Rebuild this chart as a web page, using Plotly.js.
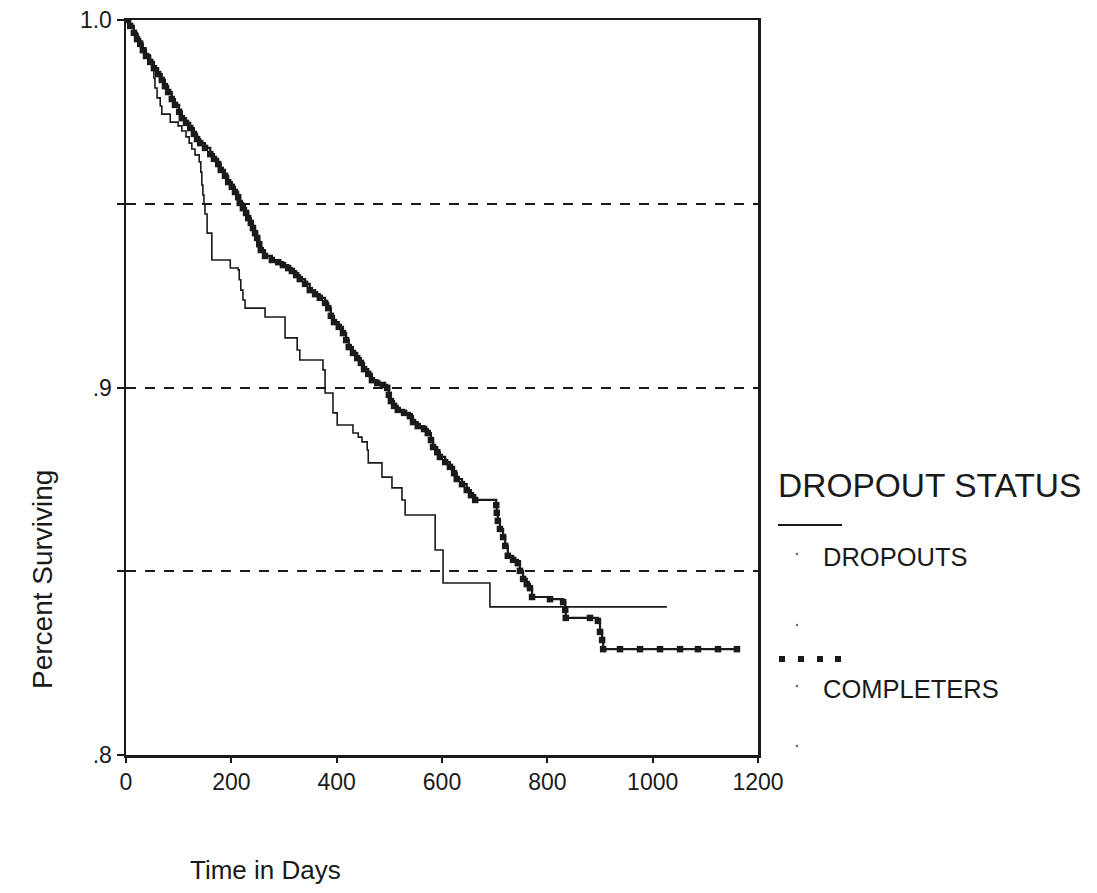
<!DOCTYPE html>
<html>
<head>
<meta charset="utf-8">
<script src="https://cdn.plot.ly/plotly-3.0.1.min.js"></script>
<style>html,body{margin:0;padding:0;background:#fff;}#chart{width:1097px;height:893px;}</style>
</head>
<body>
<div id="chart"></div>
<script>
// Dropouts (step function: time in days, proportion surviving)
const dropoutDays = [0, 8, 15, 23, 30, 38, 46, 51, 53, 55, 59, 65, 68, 84, 99, 106, 114, 120, 125, 131,
  139, 142, 144, 146, 148, 150, 154, 163, 198, 213, 215, 218, 222, 226, 264, 302, 325, 330, 374, 378,
  393, 401, 431, 441, 448, 458, 460, 486, 505, 524, 530, 587, 602, 691, 1027];
const dropoutSurv = [1.0, .9981, .9962, .9943, .9924, .9905, .9886, .9864, .9842, .9815, .9788, .9766, .9744, .9722, .9712, .9698, .9682, .9665, .9649, .9633,
  .9614, .9586, .9551, .9524, .9499, .9472, .9420, .9347, .9325, .9320, .9293, .9265, .9238, .9216, .9192, .9135, .9102, .9075, .9048, .8985,
  .8931, .8898, .8876, .8865, .8852, .8830, .8795, .8756, .8727, .8694, .8653, .8558, .8468, .8403, .8403];

// Completers
const completerDays = [0, 8, 15, 21, 27, 32, 38, 46, 53, 61, 68, 74, 80, 87, 93, 101, 106, 114, 122, 129,
  135, 141, 150, 160, 167, 175, 180, 188, 194, 201, 207, 213, 216, 222, 228, 232, 237, 241, 245, 249,
  253, 256, 264, 277, 289, 298, 308, 315, 323, 330, 340, 349, 359, 368, 378, 384, 389, 395, 404, 412,
  418, 423, 431, 439, 446, 452, 460, 467, 477, 488, 496, 499, 503, 509, 516, 528, 539, 545, 554, 566,
  573, 579, 583, 591, 596, 606, 615, 623, 628, 638, 647, 655, 663, 703, 704, 706, 710, 716, 720, 725,
  735, 744, 748, 754, 761, 767, 771, 805, 830, 834, 835, 881, 896, 900, 904, 906, 938, 976, 1014, 1052,
  1086, 1124, 1160];
const completerSurv = [1.0, .9984, .9965, .9948, .9935, .9918, .9902, .9886, .9869, .9853, .9837, .9820, .9804, .9785, .9769, .9750, .9733, .9720, .9706, .9690,
  .9676, .9665, .9652, .9635, .9622, .9608, .9592, .9576, .9559, .9546, .9532, .9518, .9502, .9488, .9475, .9461, .9448, .9434, .9420, .9407,
  .9390, .9374, .9358, .9347, .9341, .9333, .9325, .9317, .9306, .9295, .9282, .9265, .9254, .9244, .9230, .9216, .9195, .9178, .9165, .9148,
  .9129, .9110, .9094, .9080, .9067, .9050, .9037, .9020, .9012, .9007, .8999, .8980, .8963, .8950, .8939, .8931, .8922, .8906, .8895, .8887,
  .8876, .8857, .8838, .8824, .8811, .8797, .8784, .8767, .8751, .8737, .8721, .8707, .8694, .8680, .8659, .8637, .8615, .8593, .8569, .8542,
  .8531, .8522, .8501, .8479, .8465, .8454, .8430, .8424, .8416, .8395, .8373, .8373, .8365, .8335, .8313, .8288, .8288, .8288, .8288, .8288,
  .8288, .8288, .8288];

const xTicks = [0, 200, 400, 600, 800, 1000, 1200];
const xTickLabels = ['0', '200', '400', '600', '800', '1000', '1200'];
const yTicks = [0.8, 0.85, 0.9, 0.95, 1.0];
const yTickLabels = ['.8', '', '.9', '', '1.0'];

const FONT = 'Liberation Sans, Arial, Helvetica, sans-serif';
const INK = '#1a1a1a';

const traces = [
  {
    x: dropoutDays, y: dropoutSurv, type: 'scatter', mode: 'lines', name: 'DROPOUTS',
    line: {shape: 'hv', color: INK, width: 1.6}, showlegend: false, hoverinfo: 'x+y'
  },
  {
    x: completerDays, y: completerSurv, type: 'scatter', mode: 'lines+markers', name: 'COMPLETERS',
    line: {shape: 'hv', color: INK, width: 2.2}, marker: {symbol: 'square', size: 6.5, color: INK},
    showlegend: false, hoverinfo: 'x+y'
  }
];

// paper-coordinate helpers for legend block (plot area: x 126..758 px, y 20..755 px)
function px(x) { return (x - 126) / 632; }
function py(y) { return (755 - y) / 735; }

const shapes = [
  {type: 'line', xref: 'paper', yref: 'paper', x0: px(778), x1: px(842), y0: py(525), y1: py(525), line: {color: INK, width: 2}}
];
[782, 801, 820, 838].forEach(function (cx) {
  shapes.push({type: 'rect', xref: 'paper', yref: 'paper', xsizemode: 'pixel', ysizemode: 'pixel',
    xanchor: px(cx), yanchor: py(659), x0: -3, x1: 3, y0: -3, y1: 3, fillcolor: INK, line: {width: 0}});
});
[554, 625, 686, 746].forEach(function (cy) {
  shapes.push({type: 'circle', xref: 'paper', yref: 'paper', xsizemode: 'pixel', ysizemode: 'pixel',
    xanchor: px(797), yanchor: py(cy), x0: -1.2, x1: 1.2, y0: -1.2, y1: 1.2, fillcolor: '#666', line: {width: 0}});
});

const annotations = [
  {text: 'Percent Surviving', xref: 'paper', yref: 'paper', x: px(42), y: py(580), textangle: -90,
    showarrow: false, xanchor: 'center', yanchor: 'middle', font: {family: FONT, size: 28, color: INK}},
  {text: 'Time in Days', xref: 'paper', yref: 'paper', x: px(188), y: py(870),
    showarrow: false, xanchor: 'left', yanchor: 'middle', font: {family: FONT, size: 26, color: INK}},
  {text: 'DROPOUT STATUS', xref: 'paper', yref: 'paper', x: px(776), y: py(485),
    showarrow: false, xanchor: 'left', yanchor: 'middle', font: {family: FONT, size: 33.5, color: INK}},
  {text: 'DROPOUTS', xref: 'paper', yref: 'paper', x: px(821), y: py(557),
    showarrow: false, xanchor: 'left', yanchor: 'middle', font: {family: FONT, size: 25.5, color: INK}},
  {text: 'COMPLETERS', xref: 'paper', yref: 'paper', x: px(821), y: py(689),
    showarrow: false, xanchor: 'left', yanchor: 'middle', font: {family: FONT, size: 25.5, color: INK}}
];

const layout = {
  width: 1097, height: 893,
  margin: {l: 126, r: 339, t: 20, b: 138, pad: 0},
  paper_bgcolor: '#ffffff', plot_bgcolor: '#ffffff',
  font: {family: FONT, color: INK},
  showlegend: false,
  xaxis: {
    range: [0, 1200], tickvals: xTicks, ticktext: xTickLabels,
    ticks: 'outside', ticklen: 5, tickwidth: 2, tickcolor: INK,
    showline: true, linewidth: 2.5, linecolor: INK, mirror: true,
    showgrid: false, zeroline: false, tickfont: {family: FONT, size: 23, color: INK}
  },
  yaxis: {
    range: [0.8, 1.0], tickvals: yTicks, ticktext: yTickLabels,
    ticks: 'outside', ticklen: 7, tickwidth: 2, tickcolor: INK,
    showline: true, linewidth: 2.5, linecolor: INK, mirror: true,
    showgrid: true, gridcolor: INK, gridwidth: 2, griddash: '10px,9px',
    zeroline: false, tickfont: {family: FONT, size: 23, color: INK}
  },
  shapes: shapes,
  annotations: annotations
};

Plotly.newPlot('chart', traces, layout, {staticPlot: true, displayModeBar: false});
</script>
</body>
</html>
